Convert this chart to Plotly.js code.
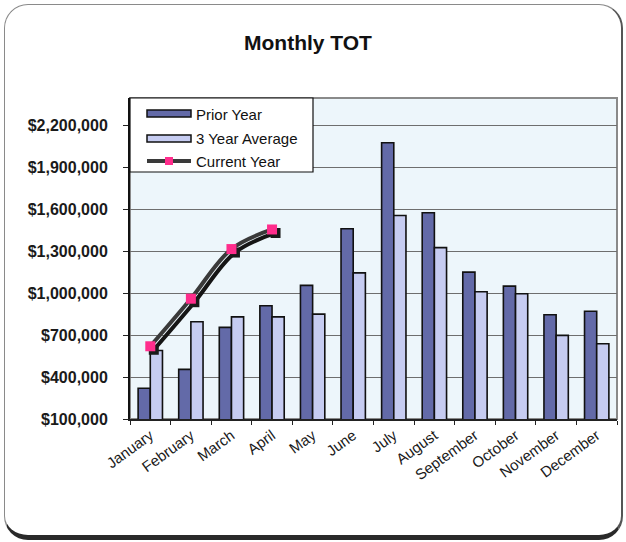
<!DOCTYPE html>
<html>
<head>
<meta charset="utf-8">
<script src="https://cdn.plot.ly/plotly-3.0.1.min.js"></script>
<style>
  html, body { margin: 0; padding: 0; background: #ffffff; }
  #wrap { position: relative; width: 626px; height: 542px; overflow: hidden; }
  #frame {
    position: absolute; left: 4px; top: 4px; width: 616px; height: 530px;
    border: 1px solid #8a8a8a; border-bottom: 5px solid #2a2a2a; border-right: 2px solid #555;
    border-radius: 24px; box-sizing: content-box;
  }
  #chart { position: absolute; left: 0; top: 0; width: 626px; height: 542px; }
</style>
</head>
<body>
<div id="wrap">
  <div id="frame"></div>
  <div id="chart"></div>
</div>
<script>
// ---- data ----
const months = ["January", "February", "March", "April", "May", "June",
                "July", "August", "September", "October", "November", "December"];
const priorYear = [320000, 455000, 755000, 910000, 1055000, 1460000,
                   2075000, 1575000, 1150000, 1050000, 845000, 870000];
const threeYearAvg = [590000, 795000, 830000, 830000, 850000, 1145000,
                      1555000, 1325000, 1010000, 995000, 698000, 638000];
const currentMonths = ["January", "February", "March", "April"];
const currentYear = [620000, 960000, 1315000, 1455000];
const seriesNames = ["Prior Year", "3 Year Average", "Current Year"];

// ---- styling ----
const W = 626, H = 542;
const M = {l: 130, r: 9, t: 98, b: 123};
const yMin = 100000, yMax = 2395000;
const plotW = W - M.l - M.r, plotH = H - M.t - M.b;
const colPrior = "#636aa8", colAvg = "#c6ccf1", colPink = "#ff2d8c";
const shadowPx = 3.5;
const dxCat = shadowPx / (plotW / months.length);
const dyVal = shadowPx * (yMax - yMin) / plotH;
const FONT = "Liberation Sans, Arial, sans-serif";

const traces = [
  {type: "bar", name: seriesNames[0], x: months, y: priorYear,
   marker: {color: colPrior, line: {color: "#111", width: 1.6}}, showlegend: false, hoverinfo: "x+y"},
  {type: "bar", name: seriesNames[1], x: months, y: threeYearAvg,
   marker: {color: colAvg, line: {color: "#111", width: 1.6}}, showlegend: false, hoverinfo: "x+y"},
  // shadow of the current-year line (same data, drawn on slightly shifted axes)
  {type: "scatter", mode: "lines+markers", x: currentMonths, y: currentYear, xaxis: "x2", yaxis: "y2",
   line: {color: "#151515", width: 4, shape: "spline"},
   marker: {symbol: "square", size: 10, color: "#1a1a1a"}, showlegend: false, hoverinfo: "skip"},
  {type: "scatter", mode: "lines+markers", name: seriesNames[2], x: currentMonths, y: currentYear,
   xaxis: "x3", yaxis: "y3",
   line: {color: "#3a3a3a", width: 4, shape: "spline"},
   marker: {symbol: "square", size: 10, color: colPink}, showlegend: false}
];

// legend helpers (pixel -> paper)
const px = v => (v - M.l) / plotW;
const py = v => (H - M.b - v) / plotH;

const shapes = [
  // legend box
  {type: "rect", xref: "paper", yref: "paper", x0: px(130), x1: px(313), y0: py(172), y1: py(98),
   fillcolor: "#ffffff", line: {color: "#111", width: 1.2}, layer: "above"},
  {type: "rect", xref: "paper", yref: "paper", x0: px(147), x1: px(191), y0: py(117), y1: py(110),
   fillcolor: colPrior, line: {color: "#111", width: 1.5}, layer: "above"},
  {type: "rect", xref: "paper", yref: "paper", x0: px(147), x1: px(191), y0: py(142), y1: py(135),
   fillcolor: colAvg, line: {color: "#111", width: 1.5}, layer: "above"},
  {type: "line", xref: "paper", yref: "paper", x0: px(147), x1: px(191), y0: py(161), y1: py(161),
   line: {color: "#3a3a3a", width: 4}, layer: "above"},
  {type: "rect", xref: "paper", yref: "paper", x0: px(165), x1: px(173), y0: py(165), y1: py(157),
   fillcolor: colPink, line: {color: colPink, width: 0}, layer: "above"},
  // plot frame top/right
  {type: "rect", xref: "paper", yref: "paper", x0: 0, x1: 1, y0: 0, y1: 1,
   line: {color: "#8a8a8a", width: 2}, layer: "below"}
];

const legendY = [114, 138, 161];
const annotations = seriesNames.map((n, i) => ({
  xref: "paper", yref: "paper", x: px(194), y: py(legendY[i]), xanchor: "left", yanchor: "middle",
  text: n, showarrow: false, font: {family: FONT, size: 15, color: "#111"}
}));

const layout = {
  width: W, height: H,
  margin: M,
  paper_bgcolor: "rgba(0,0,0,0)",
  plot_bgcolor: "#edf6fb",
  font: {family: FONT, color: "#1a1a1a"},
  title: {text: "<b>Monthly TOT</b>", xref: "container", yref: "container", x: 0.492, y: 0.922,
          xanchor: "center", yanchor: "middle", font: {size: 21, color: "#111"}},
  barmode: "group", bargap: 0.4, bargroupgap: 0,
  xaxis: {type: "category", categoryarray: months, range: [-0.5, months.length - 0.5],
          tickangle: -36, ticks: "outside", tickson: "boundaries", ticklen: 4, tickcolor: "#222",
          showline: true, linecolor: "#222", linewidth: 2, showgrid: false,
          tickfont: {size: 15, color: "#1a1a1a"}},
  yaxis: {range: [yMin, yMax], tick0: yMin, dtick: 300000, tickformat: "$,.0f",
          ticks: "outside", ticklen: 5, tickcolor: "#222", ticklabelstandoff: 12,
          showline: true, linecolor: "#111", linewidth: 2,
          showgrid: true, gridcolor: "#6e6e6e", gridwidth: 1, zeroline: false,
          tickfont: {size: 16, color: "#1a1a1a", weight: "bold"}},
  xaxis2: {type: "category", categoryarray: months, overlaying: "x", visible: false,
           range: [-0.5 - dxCat, months.length - 0.5 - dxCat]},
  yaxis2: {overlaying: "y", visible: false, range: [yMin + dyVal, yMax + dyVal]},
  xaxis3: {type: "category", categoryarray: months, overlaying: "x", visible: false,
           range: [-0.5, months.length - 0.5]},
  yaxis3: {overlaying: "y", visible: false, range: [yMin, yMax]},
  shapes: shapes,
  annotations: annotations,
  showlegend: false
};

Plotly.newPlot("chart", traces, layout, {displayModeBar: false, staticPlot: true});
</script>
</body>
</html>
